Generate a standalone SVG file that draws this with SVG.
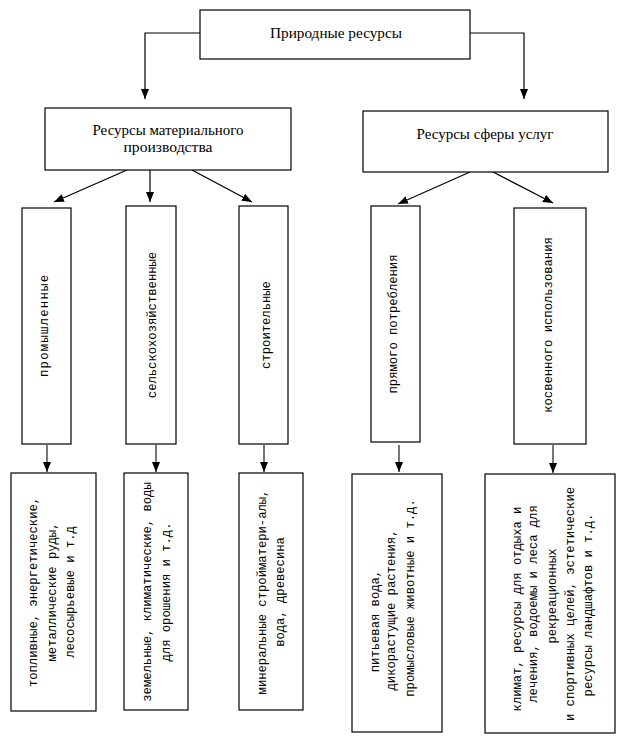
<svg xmlns="http://www.w3.org/2000/svg" width="631" height="744" viewBox="0 0 631 744">
<style>
.box{fill:#fff;stroke:#000;stroke-width:1.2}
.t{font-family:"Liberation Serif","Times New Roman",serif;font-size:14.5px;fill:#000;text-anchor:middle}
.m{font-family:"Liberation Mono","Courier New",monospace;font-size:12.2px;fill:#000;text-anchor:middle}
.c{fill:none;stroke:#000;stroke-width:1.2}
.g{fill:none;stroke:#555;stroke-width:1.6}
</style>
<defs>
<marker id="ah" markerUnits="userSpaceOnUse" markerWidth="10" markerHeight="10" viewBox="0 0 10 10" refX="10" refY="5" orient="auto">
<path d="M0,1 L10,5 L0,9 Z" fill="#000"/>
</marker>
</defs>
<rect width="631" height="744" fill="#fff"/>
<g id="connectors">
<polyline class="c" points="200,33 145,33 145,99" marker-end="url(#ah)"/>
<polyline class="c" points="470,33 524,33 524,99" marker-end="url(#ah)"/>
<line class="c" x1="127" y1="170" x2="54" y2="202" marker-end="url(#ah)"/>
<line class="c" x1="150" y1="170" x2="150" y2="202" marker-end="url(#ah)"/>
<line class="c" x1="192" y1="170" x2="252" y2="202" marker-end="url(#ah)"/>
<line class="c" x1="470" y1="172" x2="398" y2="204" marker-end="url(#ah)"/>
<line class="c" x1="493" y1="172" x2="553" y2="203" marker-end="url(#ah)"/>
<line class="g" x1="47" y1="445" x2="47" y2="472" marker-end="url(#ah)"/>
<line class="g" x1="156" y1="445" x2="156" y2="472" marker-end="url(#ah)"/>
<line class="g" x1="264" y1="445" x2="264" y2="472" marker-end="url(#ah)"/>
<line class="g" x1="399" y1="445" x2="399" y2="472" marker-end="url(#ah)"/>
<line class="g" x1="553" y1="445" x2="553" y2="473" marker-end="url(#ah)"/>
</g>
<g id="root">
<rect class="box" x="200" y="10" width="270" height="49"/>
<text class="t" x="336" y="38" textLength="132" lengthAdjust="spacingAndGlyphs">Природные ресурсы</text>
</g>
<g id="material">
<rect class="box" x="45" y="108" width="246" height="62"/>
<text class="t" x="168" y="135" textLength="151" lengthAdjust="spacingAndGlyphs">Ресурсы материального</text>
<text class="t" x="168" y="152" textLength="89" lengthAdjust="spacingAndGlyphs">производства</text>
</g>
<g id="services">
<rect class="box" x="363" y="111" width="245" height="61"/>
<text class="t" x="485" y="139" textLength="137" lengthAdjust="spacingAndGlyphs">Ресурсы сферы услуг</text>
</g>
<g id="industrial">
<rect class="box" x="22" y="208" width="49" height="236"/>
<text class="m" transform="translate(48,326) rotate(-90)" textLength="102" lengthAdjust="spacing">промышленные</text>
</g>
<g id="agricultural">
<rect class="box" x="126" y="206" width="50" height="238"/>
<text class="m" transform="translate(156,325) rotate(-90)">сельскохозяйственные</text>
</g>
<g id="construction">
<rect class="box" x="239" y="206" width="49" height="238"/>
<text class="m" transform="translate(270,325) rotate(-90)">строительные</text>
</g>
<g id="direct">
<rect class="box" x="371" y="206" width="49" height="236"/>
<text class="m" transform="translate(397,324) rotate(-90)">прямого потребления</text>
</g>
<g id="indirect">
<rect class="box" x="514" y="208" width="72" height="236"/>
<text class="m" transform="translate(552,325) rotate(-90)">косвенного использования</text>
</g>
<g id="industrial-detail">
<rect class="box" x="11" y="473" width="85" height="238"/>
<text class="m" transform="translate(37,592) rotate(-90)">топливные, энергетические,</text>
<text class="m" transform="translate(56,592) rotate(-90)">металлические руды,</text>
<text class="m" transform="translate(74,592) rotate(-90)">лесосырьевые и т.д</text>
</g>
<g id="agricultural-detail">
<rect class="box" x="124" y="473" width="64" height="237"/>
<text class="m" transform="translate(151,592) rotate(-90)">земельные, климатические, воды</text>
<text class="m" transform="translate(170,592) rotate(-90)">для орошения и т.д.</text>
</g>
<g id="construction-detail">
<rect class="box" x="239" y="473" width="64" height="237"/>
<text class="m" transform="translate(266,592) rotate(-90)">минеральные стройматери-алы,</text>
<text class="m" transform="translate(284,592) rotate(-90)">вода, древесина</text>
</g>
<g id="direct-detail">
<rect class="box" x="352" y="474" width="90" height="258"/>
<text class="m" transform="translate(379,621) rotate(-90)">питьевая вода,</text>
<text class="m" transform="translate(395,610) rotate(-90)">дикорастущие растения,</text>
<text class="m" transform="translate(414,598) rotate(-90)">промысловые животные и т.д.</text>
</g>
<g id="indirect-detail">
<rect class="box" x="485" y="474" width="130" height="259"/>
<text class="m" transform="translate(521,609) rotate(-90)">климат, ресурсы для отдыха и</text>
<text class="m" transform="translate(537,604) rotate(-90)">лечения, водоемы и леса для</text>
<text class="m" transform="translate(556,596) rotate(-90)">рекреационных</text>
<text class="m" transform="translate(574,604) rotate(-90)">и спортивных целей, эстетические</text>
<text class="m" transform="translate(592,605) rotate(-90)">ресурсы ландшафтов и т.д.</text>
</g>
</svg>
